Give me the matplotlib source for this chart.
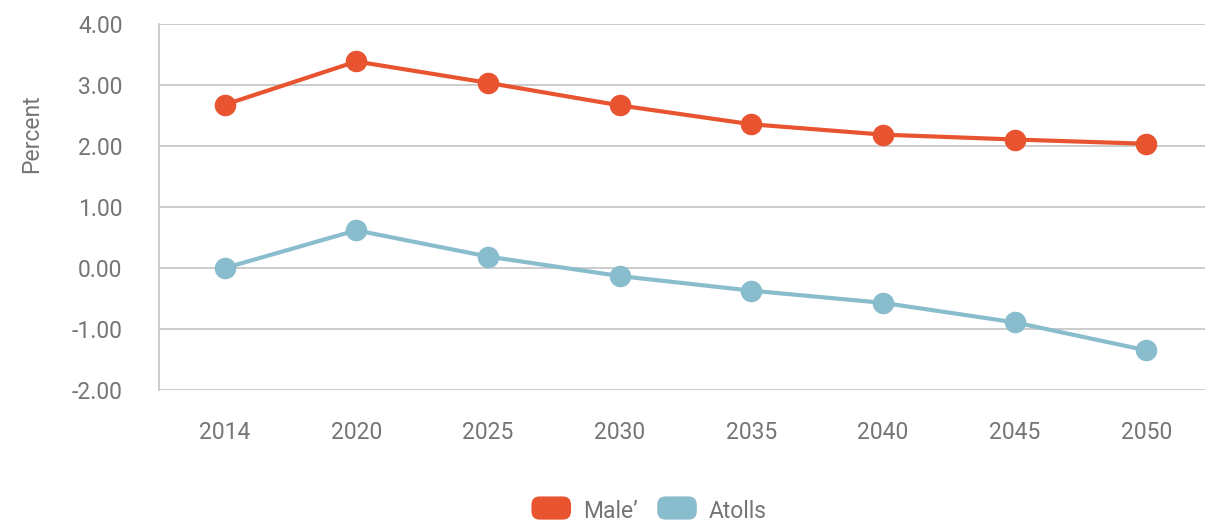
import matplotlib.pyplot as plt
from matplotlib.patches import FancyBboxPatch
from matplotlib.legend_handler import HandlerPatch

plt.rcParams['font.family'] = ['Roboto', 'DejaVu Sans']

years = ["2014", "2020", "2025", "2030", "2035", "2040", "2045", "2050"]
male = [2.68, 3.39, 3.04, 2.67, 2.36, 2.19, 2.11, 2.04]
atolls = [0.00, 0.62, 0.19, -0.13, -0.37, -0.57, -0.89, -1.35]
yticks = [-2, -1, 0, 1, 2, 3, 4]

ORANGE = "#E95430"
BLUE = "#89BDCE"
GREY_TXT = "#757575"
GRID = "#C4C4C4"

fig = plt.figure(figsize=(12.05, 5.24), dpi=100)
ax = fig.add_axes([0.1317, 0.2557, 0.8744, 0.6979])

x = list(range(len(years)))
ax.plot(x, male, color=ORANGE, lw=3.0, marker="o", ms=14.5, label="Male\u2019", zorder=3)
ax.plot(x, atolls, color=BLUE, lw=3.0, marker="o", ms=14.5, label="Atolls", zorder=3)

ax.set_xlim(-0.5, len(years) - 0.5)
ax.set_ylim(-2, 4)
ax.set_xticks(x)
ax.set_xticklabels(years)
ax.set_yticks(yticks)
ax.set_yticklabels([f"{v:.2f}" for v in yticks])
ax.grid(axis="y", color=GRID, lw=1.2)
ax.set_axisbelow(True)
for s in ["top", "right", "bottom"]:
    ax.spines[s].set_visible(False)
ax.spines["left"].set_color(GRID)
ax.spines["left"].set_linewidth(1.2)
ax.tick_params(length=0, labelsize=16.5, colors=GREY_TXT)
ax.tick_params(axis="x", pad=22)
ax.tick_params(axis="y", pad=26)
ax.set_ylabel("Percent", fontsize=16.5, color=GREY_TXT)
# label sits higher than the axes centre
ax.yaxis.set_label_coords(-0.110, 0.70)


class RoundBox(HandlerPatch):
    def create_artists(self, legend, orig, xd, yd, w, h, fontsize, trans):
        p = FancyBboxPatch((xd + 1, yd - 2), w - 2, h + 3,
                           boxstyle="round,pad=0,rounding_size=6",
                           fc=orig.get_color(), ec="none", transform=trans)
        return [p]


lines = ax.get_lines()
fig.legend(lines, [l.get_label() for l in lines], loc="center",
           bbox_to_anchor=(0.538, 0.023), ncol=2, frameon=False,
           fontsize=16.5, labelcolor=GREY_TXT, handlelength=1.85,
           handleheight=0.9, handletextpad=0.45, columnspacing=0.8,
           handler_map={l: RoundBox() for l in lines})

fig.savefig("out.png", dpi=100)
